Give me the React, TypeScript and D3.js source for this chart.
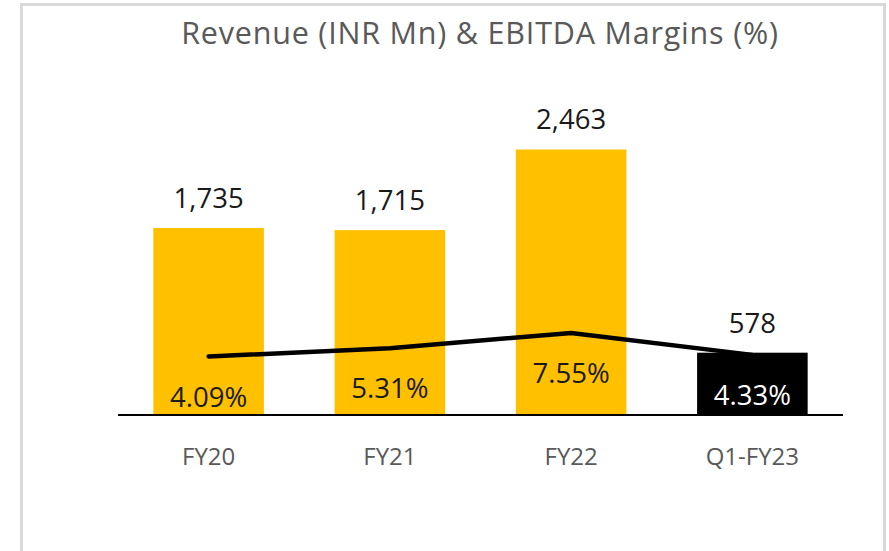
import React, { useEffect, useRef } from "react";
import * as d3 from "d3";

const categories = ["FY20", "FY21", "FY22", "Q1-FY23"];
const revenue = [1735, 1715, 2463, 578];
const margins = [4.09, 5.31, 7.55, 4.33];
const barColors = ["#FFC000", "#FFC000", "#FFC000", "#000000"];
const marginLabelColors = ["#1a1a1a", "#1a1a1a", "#1a1a1a", "#ffffff"];

const W = 889, H = 551;
const FONT = "'Open Sans', sans-serif";

const App = () => {
  const svgRef = useRef<SVGSVGElement>(null);

  useEffect(() => {
    const svg = d3.select(svgRef.current);
    svg.selectAll("*").remove();

    const left = 118, right = 843, base = 415;

    const x = d3.scaleBand<string>()
      .domain(categories)
      .range([left, right])
      .paddingInner(0.39)
      .paddingOuter(0.195);

    const y = d3.scaleLinear().domain([0, 3000]).range([base, 91.6]);
    // secondary axis for margins (Excel-ish auto range)
    const y2 = d3.scaleLinear().domain([-4.5, 43]).range([base, 91.6]);

    // chart frame
    svg.append("rect")
      .attr("x", 21.5).attr("y", 4.5)
      .attr("width", 863).attr("height", 700)
      .attr("fill", "none")
      .attr("stroke", "#d9d9d9")
      .attr("stroke-width", 3);

    svg.append("text")
      .attr("x", 480).attr("y", 43.5)
      .attr("text-anchor", "middle")
      .attr("font-family", FONT)
      .attr("font-size", 30.5)
      .attr("letter-spacing", 0.8)
      .attr("fill", "#595959")
      .text("Revenue (INR Mn) & EBITDA Margins (%)");

    svg.append("g")
      .selectAll("rect")
      .data(revenue)
      .join("rect")
      .attr("x", (d, i) => x(categories[i])!)
      .attr("y", d => y(d))
      .attr("width", x.bandwidth())
      .attr("height", d => base - y(d))
      .attr("fill", (d, i) => barColors[i]);

    svg.append("line")
      .attr("x1", left).attr("x2", right)
      .attr("y1", base).attr("y2", base)
      .attr("stroke", "#000")
      .attr("stroke-width", 2);

    svg.append("g")
      .selectAll("text")
      .data(revenue)
      .join("text")
      .attr("x", (d, i) => x(categories[i])! + x.bandwidth() / 2)
      .attr("y", d => y(d) - 20)
      .attr("text-anchor", "middle")
      .attr("font-family", FONT)
      .attr("font-size", 27.5)
      .attr("fill", "#1a1a1a")
      .text(d => d3.format(",")(d));

    const line = d3.line<number>()
      .x((d, i) => x(categories[i])! + x.bandwidth() / 2)
      .y(d => y2(d));

    svg.append("path")
      .datum(margins)
      .attr("d", line)
      .attr("fill", "none")
      .attr("stroke", "#000")
      .attr("stroke-width", 4.5)
      .attr("stroke-linecap", "round")
      .attr("stroke-linejoin", "round");

    svg.append("g")
      .selectAll("text")
      .data(margins)
      .join("text")
      .attr("x", (d, i) => x(categories[i])! + x.bandwidth() / 2)
      .attr("y", d => y2(d) + 50)
      .attr("text-anchor", "middle")
      .attr("font-family", FONT)
      .attr("font-size", 27.5)
      .attr("fill", (d, i) => marginLabelColors[i])
      .text(d => d.toFixed(2) + "%");

    svg.append("g")
      .selectAll("text")
      .data(categories)
      .join("text")
      .attr("x", d => x(d)! + x.bandwidth() / 2)
      .attr("y", 465)
      .attr("text-anchor", "middle")
      .attr("font-family", FONT)
      .attr("font-size", 24)
      .attr("fill", "#595959")
      .text(d => d);
  }, []);

  return (
    <svg
      ref={svgRef}
      width={W}
      height={H}
      style={{ position: "absolute", left: 0, top: 0, background: "#fff", display: "block" }}
    ></svg>
  );
};

export default App;
